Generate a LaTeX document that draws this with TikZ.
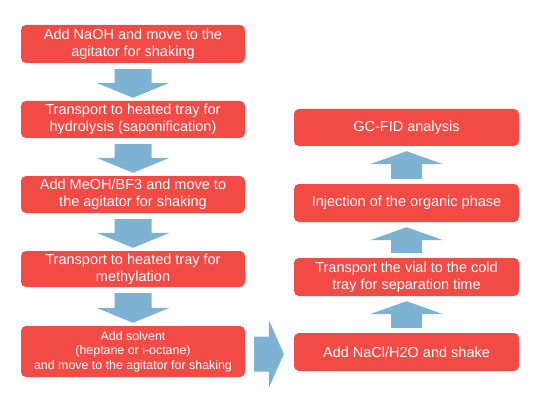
\documentclass[tikz,border=0pt]{standalone}
\usepackage{fontspec}
\setmainfont{Liberation Sans}
\usetikzlibrary{calc}
\definecolor{boxred}{HTML}{F24B46}
\definecolor{arrowblue}{HTML}{7EB2D2}
\tikzset{
  stepbox/.style={fill=boxred, rounded corners=5pt, text=white, align=center,
    inner sep=0pt, font=\fontsize{14.5}{17}\selectfont},
  leftbox/.style={stepbox, minimum width=224pt},
  rightbox/.style={stepbox, minimum width=225pt},
  arrowfill/.style={fill=arrowblue}
}
\newcommand\flowdown[2]{%
  \path[arrowfill] let \p1=(#1.south), \p2=(#2.north) in
   (\x1-18.5pt,\y1-6pt) -- (\x1+18.5pt,\y1-6pt) -- (\x1+18.5pt,\y2+18pt) --
   (\x1+36.5pt,\y2+18pt) -- (\x1,\y2+3pt) -- (\x1-36.5pt,\y2+18pt) --
   (\x1-18.5pt,\y2+18pt) -- cycle;}
\newcommand\flowup[2]{%
  \path[arrowfill] let \p1=(#1.north), \p2=(#2.south) in
   (\x1-15.5pt,\y1+5pt) -- (\x1+15.5pt,\y1+5pt) -- (\x1+15.5pt,\y2-18pt) --
   (\x1+36.5pt,\y2-18pt) -- (\x1,\y2-5pt) -- (\x1-36.5pt,\y2-18pt) --
   (\x1-15.5pt,\y2-18pt) -- cycle;}
\begin{document}
\begin{tikzpicture}[x=1pt,y=-1pt]
\useasboundingbox (0,0) rectangle (540,414);
\node[leftbox, minimum height=38pt] (b1) at (133,44) {Add NaOH and move to the\\agitator for shaking};
\node[leftbox, minimum height=37pt] (b2) at (133,119.5) {Transport to heated tray for\\hydrolysis (saponification)};
\node[leftbox, minimum height=37pt] (b3) at (133,194.5) {Add MeOH/BF3 and move to\\the agitator for shaking};
\node[leftbox, minimum height=36pt] (b4) at (133,269) {Transport to heated tray for\\methylation};
\node[leftbox, minimum height=51pt, font=\fontsize{12.4}{14.5}\selectfont] (b5) at (133,351.5) {Add solvent\\(heptane or i-octane)\\and move to the agitator for shaking};
\node[rightbox, minimum height=38pt] (r4) at (406.5,352) {Add NaCl/H2O and shake};
\node[rightbox, minimum height=38pt] (r3) at (406.5,277) {Transport the vial to the cold\\tray for separation time};
\node[rightbox, minimum height=38pt] (r2) at (406.5,203) {Injection of the organic phase};
\node[rightbox, minimum height=37pt] (r1) at (406.5,127.5) {GC-FID analysis};
\flowdown{b1}{b2}
\flowdown{b2}{b3}
\flowdown{b3}{b4}
\flowdown{b4}{b5}
\flowup{r4}{r3}
\flowup{r3}{r2}
\flowup{r2}{r1}
\path[arrowfill] let \p1=(b5.east), \p2=(r4.west) in
  (\x1+9pt,\y2-2pt+17.5pt) -- (\x2-25pt,\y2-2pt+17.5pt) -- (\x2-25pt,\y2-2pt+34pt) --
  (\x2-10pt,\y2-2pt) -- (\x2-25pt,\y2-2pt-34pt) -- (\x2-25pt,\y2-2pt-17.5pt) --
  (\x1+9pt,\y2-2pt-17.5pt) -- cycle;
\end{tikzpicture}
\end{document}
